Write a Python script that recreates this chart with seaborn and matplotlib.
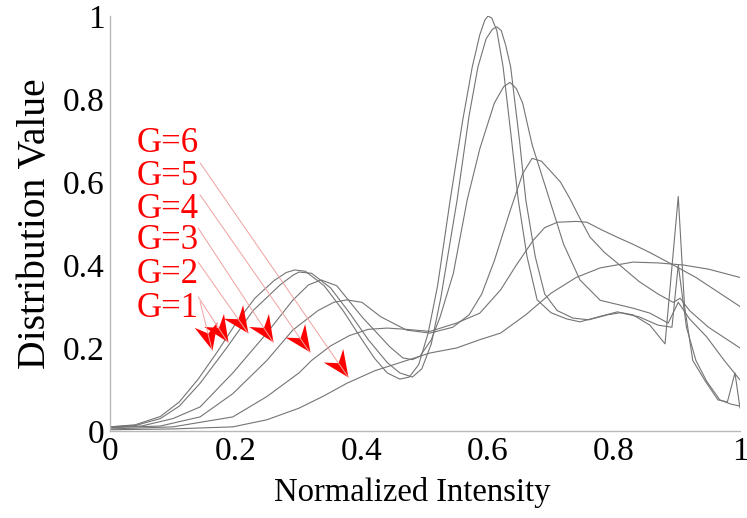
import numpy as np
import pandas as pd
import matplotlib
matplotlib.use("Agg")
import matplotlib.pyplot as plt
import seaborn as sns
from matplotlib.markers import MarkerStyle
from matplotlib.path import Path
from matplotlib.transforms import Affine2D

# ---- data ----
g1_x = [0, 0.04, 0.08, 0.11, 0.14, 0.17, 0.20, 0.23, 0.26, 0.28, 0.293, 0.31, 0.34, 0.37, 0.40, 0.42, 0.44, 0.46,
        0.475, 0.49, 0.505, 0.52, 0.54, 0.56, 0.575, 0.587, 0.595, 0.60, 0.606, 0.614, 0.624, 0.636, 0.648, 0.662,
        0.678, 0.70, 0.725, 0.746, 0.775, 0.805, 0.83, 0.857, 0.881, 0.902, 0.912, 0.925, 0.945, 0.965, 0.98,
        0.992, 1.0]
g1_y = [0.01, 0.015, 0.035, 0.07, 0.125, 0.19, 0.26, 0.32, 0.362, 0.382, 0.388, 0.385, 0.35, 0.29, 0.22, 0.175,
        0.14, 0.125, 0.13, 0.16, 0.236, 0.35, 0.557, 0.75, 0.877, 0.955, 0.99, 1.0, 0.995, 0.965, 0.877, 0.72,
        0.557, 0.42, 0.316, 0.285, 0.27, 0.263, 0.275, 0.287, 0.28, 0.255, 0.21, 0.565, 0.30, 0.17, 0.12, 0.075,
        0.07, 0.14, 0.055]

g2_x = [0, 0.04, 0.08, 0.11, 0.143, 0.185, 0.227, 0.27, 0.29, 0.30, 0.32, 0.35, 0.38, 0.41, 0.44, 0.46, 0.48,
        0.495, 0.51, 0.525, 0.551, 0.57, 0.584, 0.597, 0.607, 0.614, 0.621, 0.628, 0.636, 0.65, 0.66, 0.675, 0.69,
        0.71, 0.735, 0.76, 0.79, 0.81, 0.84, 0.87, 0.892, 0.902, 0.915, 0.93, 0.947, 0.968, 0.985, 1.0]
g2_y = [0.01, 0.013, 0.03, 0.06, 0.115, 0.20, 0.29, 0.352, 0.375, 0.383, 0.38, 0.345, 0.285, 0.22, 0.165, 0.14,
        0.13, 0.15, 0.21, 0.32, 0.557, 0.76, 0.877, 0.945, 0.968, 0.974, 0.965, 0.93, 0.877, 0.70, 0.557, 0.42,
        0.33, 0.29, 0.272, 0.268, 0.28, 0.285, 0.275, 0.255, 0.25, 0.40, 0.25, 0.17, 0.12, 0.075, 0.065, 0.06]

g3_x = [0, 0.05, 0.10, 0.143, 0.195, 0.249, 0.29, 0.315, 0.335, 0.36, 0.40, 0.444, 0.465, 0.48, 0.492, 0.51,
        0.524, 0.545, 0.567, 0.587, 0.61, 0.625, 0.635, 0.645, 0.655, 0.67, 0.693, 0.72, 0.746, 0.778, 0.83,
        0.857, 0.886, 0.902, 0.92, 0.947, 0.975, 1.0]
g3_y = [0.01, 0.012, 0.03, 0.058, 0.14, 0.236, 0.315, 0.352, 0.364, 0.35, 0.275, 0.203, 0.176, 0.172, 0.18, 0.22,
        0.275, 0.38, 0.557, 0.68, 0.79, 0.83, 0.84, 0.825, 0.79, 0.69, 0.58, 0.45, 0.364, 0.315, 0.296,
        0.284, 0.26, 0.31, 0.27, 0.227, 0.17, 0.123]

g4_x = [0, 0.08, 0.143, 0.195, 0.249, 0.29, 0.33, 0.355, 0.376, 0.40, 0.43, 0.471, 0.508, 0.544, 0.57, 0.59,
        0.61, 0.635, 0.655, 0.67, 0.685, 0.70, 0.715, 0.73, 0.745, 0.762, 0.785, 0.805, 0.84, 0.87, 0.894, 0.905,
        0.92, 0.95, 0.975, 1.0]
g4_y = [0.008, 0.012, 0.034, 0.09, 0.17, 0.243, 0.29, 0.31, 0.316, 0.31, 0.275, 0.243, 0.236, 0.25, 0.28, 0.33,
        0.41, 0.53, 0.62, 0.657, 0.65, 0.625, 0.6, 0.56, 0.515, 0.467, 0.43, 0.405, 0.36, 0.33, 0.31, 0.32,
        0.29, 0.25, 0.225, 0.20]

g5_x = [0, 0.10, 0.195, 0.249, 0.30, 0.32, 0.35, 0.38, 0.41, 0.44, 0.47, 0.508, 0.55, 0.587, 0.62, 0.645, 0.672,
        0.69, 0.71, 0.74, 0.757, 0.78, 0.805, 0.83, 0.857, 0.894, 0.93, 0.96, 1.0]
g5_y = [0.005, 0.01, 0.034, 0.083, 0.14, 0.17, 0.205, 0.23, 0.245, 0.248, 0.245, 0.24, 0.26, 0.284, 0.34, 0.40, 0.46,
        0.49, 0.503, 0.505, 0.503, 0.485, 0.467, 0.45, 0.43, 0.40, 0.37, 0.34, 0.30]

g6_x = [0, 0.10, 0.195, 0.249, 0.30, 0.34, 0.376, 0.42, 0.471, 0.508, 0.55, 0.587, 0.62, 0.66, 0.70, 0.74, 0.778,
        0.83, 0.87, 0.91, 0.95, 1.0]
g6_y = [0.003, 0.005, 0.01, 0.027, 0.055, 0.085, 0.115, 0.145, 0.17, 0.188, 0.20, 0.22, 0.236, 0.28, 0.332, 0.37,
        0.393, 0.407, 0.405, 0.40, 0.39, 0.37]

series_x = [g1_x, g2_x, g3_x, g4_x, g5_x, g6_x]
series_y = [g1_y, g2_y, g3_y, g4_y, g5_y, g6_y]
labels = ["G=1", "G=2", "G=3", "G=4", "G=5", "G=6"]

tick_vals = [0, 0.2, 0.4, 0.6, 0.8, 1]
tick_labels = ["0", "0.2", "0.4", "0.6", "0.8", "1"]

label_x = [0.043, 0.043, 0.043, 0.043, 0.043, 0.043]
label_y = [0.296, 0.376, 0.458, 0.533, 0.614, 0.692]
arrow_start_x = [0.143, 0.140, 0.140, 0.140, 0.143, 0.143]
arrow_start_y = [0.311, 0.323, 0.407, 0.489, 0.569, 0.646]
arrow_tip_x = [0.162, 0.187, 0.219, 0.259, 0.317, 0.378]
arrow_tip_y = [0.195, 0.214, 0.236, 0.214, 0.190, 0.130]

# ---- build table ----
frames = []
for lab, xs, ys in zip(labels, series_x, series_y):
    frames.append(pd.DataFrame({"x": xs, "y": ys, "G": lab}))
df = pd.concat(frames, ignore_index=True)

sns.set_theme(style="white")
plt.rcParams["font.family"] = ["Liberation Serif", "DejaVu Serif"]

fig = plt.figure(figsize=(7.47, 5.18), dpi=100)
ax = fig.add_axes([110 / 747, 87 / 518, 630 / 747, 415 / 518])

sns.lineplot(data=df, x="x", y="y", hue="G", palette=["#747474"] * 6, estimator=None,
             sort=False, linewidth=0.8, legend=False, ax=ax)

ax.set_xlim(0, 1)
ax.set_ylim(0, 1)
ax.set_xticks(tick_vals)
ax.set_xticklabels(tick_labels)
ax.set_yticks(tick_vals)
ax.set_yticklabels(tick_labels)
ax.tick_params(axis="both", direction="in", length=4, width=1.5, color="#222222",
               labelsize=24, pad=4, labelcolor="black")
for s in ["top", "right"]:
    ax.spines[s].set_visible(False)
for s in ["left", "bottom"]:
    ax.spines[s].set_color("#b8b8b8")
    ax.spines[s].set_linewidth(1.0)

ax.set_xlabel("Normalized Intensity", fontsize=23.5, color="black")
ax.xaxis.set_label_coords(0.479, -0.112)
ax.xaxis.label.set_va("top")
ax.set_ylabel("Distribution Value", fontsize=28.5, labelpad=6, color="black")

# annotations
head = Path([(0, 0), (-1, 0.45), (-0.66, 0), (-1, -0.45), (0, 0)],
            [Path.MOVETO, Path.LINETO, Path.LINETO, Path.LINETO, Path.CLOSEPOLY])
fig.canvas.draw()
for lab, lx, ly, sx, sy, tx, ty in zip(labels, label_x, label_y, arrow_start_x, arrow_start_y,
                                      arrow_tip_x, arrow_tip_y):
    ax.text(lx, ly, lab, color="#ff0000", fontsize=25, ha="left", va="center")
    ax.annotate("", xy=(tx, ty), xytext=(sx, sy),
                arrowprops=dict(arrowstyle="-", color="#f2a0a0", lw=0.7, shrinkA=0, shrinkB=0))
    p0 = ax.transData.transform((sx, sy))
    p1 = ax.transData.transform((tx, ty))
    ang = np.degrees(np.arctan2(p1[1] - p0[1], p1[0] - p0[0]))
    m = MarkerStyle(head, transform=Affine2D().rotate_deg(ang))
    ax.plot([tx], [ty], marker=m, markersize=38, color="#ff0000", markeredgewidth=0,
            linestyle="none", clip_on=False)

fig.savefig("out.png", dpi=100)
